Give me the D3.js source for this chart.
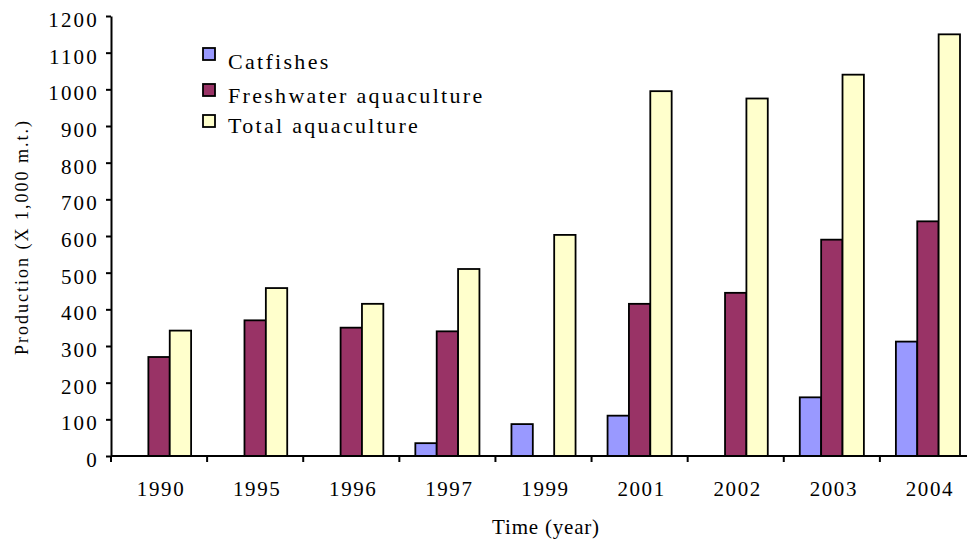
<!DOCTYPE html>
<html>
<head>
<meta charset="utf-8">
<script src="https://cdn.jsdelivr.net/npm/d3@7"></script>
<style>
  html, body { margin: 0; padding: 0; background: #fff; }
  svg { display: block; font-family: "Liberation Serif", "Times New Roman", serif; }
</style>
</head>
<body>
<svg id="chart" width="967" height="539"></svg>
<script>
// Production by year (thousand metric tons)
const years = ["1990", "1995", "1996", "1997", "1999", "2001", "2002", "2003", "2004"];
const seriesNames = ["Catfishes", "Freshwater aquaculture", "Total aquaculture"];
const catfishes = [null, null, null, 35, 87, 110, null, 160, 312];
const freshwater = [270, 370, 350, 340, null, 415, 445, 590, 640];
const totalAqua = [342, 458, 415, 510, 603, 995, 975, 1040, 1150];
const yTicks = [0, 100, 200, 300, 400, 500, 600, 700, 800, 900, 1000, 1100, 1200];
const colors = ["#9999FF", "#993366", "#FFFFCC"];

const seriesValues = [catfishes, freshwater, totalAqua];
const serif = "Liberation Serif, Times New Roman, serif";

const svg = d3.select("#chart");

const x0 = d3.scaleBand().domain(years).range([111, 976]).paddingInner(0).paddingOuter(0);
const groupWidth = x0.bandwidth() * 0.667;
const x1 = d3.scaleBand().domain(seriesNames).range([0, groupWidth]).padding(0);
const y = d3.scaleLinear().domain([0, 1200]).range([456, 16]);

// bars
const bars = [];
years.forEach((yr, i) => {
  seriesNames.forEach((s, j) => {
    const v = seriesValues[j][i];
    if (v !== null) bars.push({ year: yr, series: s, value: v, color: colors[j] });
  });
});

const groupOffset = (x0.bandwidth() - groupWidth) / 2;
svg.append("g").selectAll("rect")
  .data(bars)
  .join("rect")
  .attr("x", d => x0(d.year) + groupOffset + x1(d.series))
  .attr("y", d => y(d.value))
  .attr("width", x1.bandwidth())
  .attr("height", d => y(0) - y(d.value))
  .attr("fill", d => d.color)
  .attr("stroke", "#000")
  .attr("stroke-width", 1.8);

// y axis
const yAxis = d3.axisLeft(y).tickValues(yTicks).tickFormat(d3.format("d"))
  .tickSize(5).tickPadding(7).tickSizeOuter(0);
const gy = svg.append("g").attr("transform", "translate(111,0)").call(yAxis);
gy.attr("font-family", serif);
gy.select(".domain").attr("stroke", "#000").attr("stroke-width", 2);
gy.selectAll(".tick line").attr("stroke", "#000").attr("stroke-width", 2);
gy.selectAll(".tick text").attr("font-size", 21).attr("fill", "#000")
  .attr("letter-spacing", 2.2)
  .attr("dy", "0.5em");

// x axis with ticks on category boundaries
const gx = svg.append("g").attr("transform", "translate(0,456)");
gx.append("line").attr("x1", 111).attr("x2", 976).attr("stroke", "#000").attr("stroke-width", 2);
const boundaries = years.map(yr => x0(yr)).concat([x0.range()[1]]);
gx.selectAll("line.tk").data(boundaries).join("line")
  .attr("class", "tk")
  .attr("x1", d => d).attr("x2", d => d)
  .attr("y1", 0).attr("y2", 6)
  .attr("stroke", "#000").attr("stroke-width", 2);
gx.selectAll("text").data(years).join("text")
  .attr("x", d => x0(d) + x0.bandwidth() / 2 + 2)
  .attr("y", 40)
  .attr("text-anchor", "middle")
  .attr("font-size", 21)
  .attr("letter-spacing", 1.6)
  .attr("fill", "#000")
  .text(d => d);

// axis titles
svg.append("text")
  .attr("transform", "translate(28,237) rotate(-90)")
  .attr("text-anchor", "middle")
  .attr("font-size", 18)
  .attr("letter-spacing", 2)
  .attr("fill", "#000")
  .text("Production (X 1,000 m.t.)");

svg.append("text")
  .attr("x", 546).attr("y", 534)
  .attr("text-anchor", "middle")
  .attr("font-size", 21)
  .attr("letter-spacing", 0.8)
  .attr("fill", "#000")
  .text("Time (year)");

// legend
const legendRows = [
  { sq: 48, base: 69 },
  { sq: 84, base: 103 },
  { sq: 115, base: 133 }
];
const legend = svg.append("g");
seriesNames.forEach((s, i) => {
  legend.append("rect")
    .attr("x", 203).attr("y", legendRows[i].sq)
    .attr("width", 12).attr("height", 12)
    .attr("fill", colors[i]).attr("stroke", "#000").attr("stroke-width", 1.8);
  legend.append("text")
    .attr("x", 228).attr("y", legendRows[i].base)
    .attr("font-size", 22)
    .attr("letter-spacing", 2.3)
    .attr("fill", "#000")
    .text(s);
});
</script>
</body>
</html>
